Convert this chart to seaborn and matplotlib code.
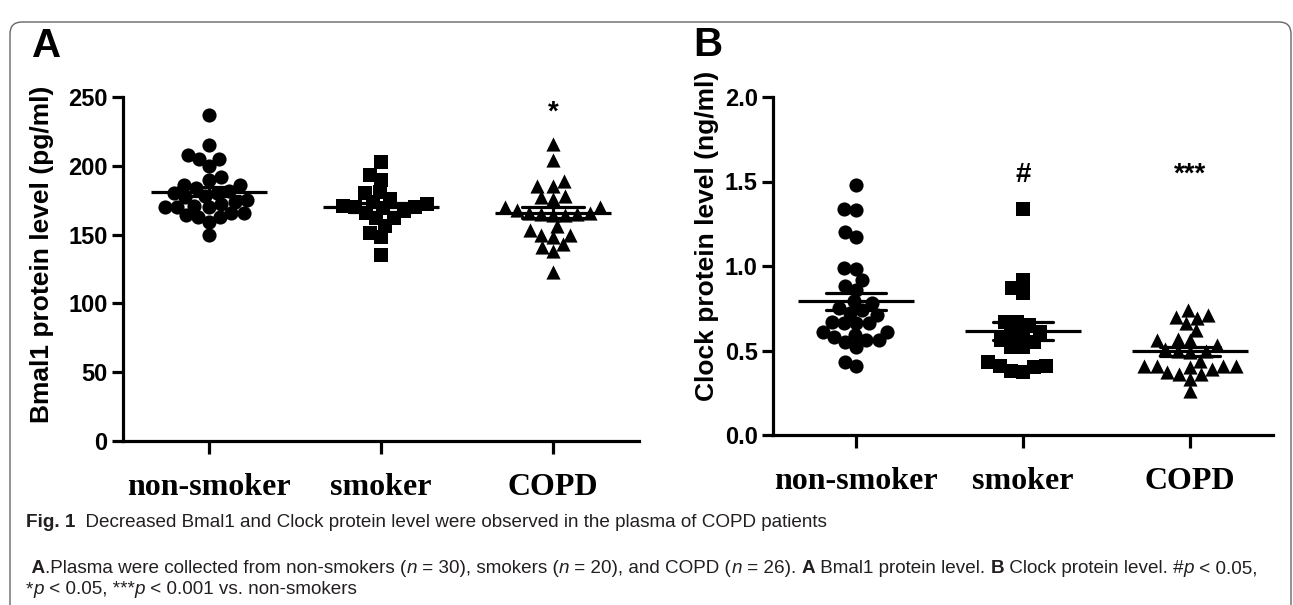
import numpy as np
import pandas as pd
import matplotlib
matplotlib.use("Agg")
import matplotlib.pyplot as plt
import seaborn as sns
from matplotlib.patches import FancyBboxPatch

# ---------------- data ----------------
groups = ["non-smoker", "smoker", "COPD"]
markers = ["o", "s", "^"]

bmal1_nonsmoker = [237, 215, 208, 205, 205, 200, 192, 190, 186, 186, 184, 182, 180, 180, 178,
                   177, 175, 174, 172, 171, 170, 170, 170, 166, 166, 164, 163, 163, 159, 150]
bmal1_smoker = [203, 193, 190, 181, 180, 176, 174, 172, 171, 170, 170, 169, 167, 166, 162,
                162, 156, 151, 148, 135]
bmal1_copd = [216, 204, 189, 185, 185, 178, 176, 177, 170, 170, 168, 166, 166, 165, 165,
              164, 164, 156, 153, 150, 150, 148, 143, 141, 138, 123]

clock_nonsmoker = [1.48, 1.34, 1.33, 1.20, 1.17, 0.99, 0.98, 0.92, 0.88, 0.86, 0.79, 0.78, 0.75,
                   0.74, 0.72, 0.71, 0.67, 0.66, 0.66, 0.66, 0.61, 0.61, 0.59, 0.58, 0.56, 0.56,
                   0.55, 0.52, 0.43, 0.41]
clock_smoker = [1.34, 0.92, 0.87, 0.84, 0.67, 0.67, 0.65, 0.61, 0.60, 0.59, 0.56, 0.55, 0.52,
                0.52, 0.43, 0.41, 0.41, 0.40, 0.38, 0.37]
clock_copd = [0.74, 0.71, 0.70, 0.69, 0.66, 0.62, 0.57, 0.56, 0.56, 0.53, 0.51, 0.50, 0.50,
              0.49, 0.44, 0.41, 0.41, 0.40, 0.39, 0.41, 0.41, 0.36, 0.36, 0.37, 0.33, 0.26]

bmal1_ticks = [0, 50, 100, 150, 200, 250]
clock_ticks = [0.0, 0.5, 1.0, 1.5, 2.0]
signif_A = ["", "", "*"]
signif_B = ["", "#", "***"]

# ---------------- style ----------------
sns.set_theme(style="ticks")
plt.rcParams["font.family"] = ["Liberation Sans", "DejaVu Sans"]
for k in ["text.color", "axes.labelcolor", "xtick.color", "ytick.color", "axes.edgecolor"]:
    plt.rcParams[k] = "black"

W, H = 1293, 605
fig = plt.figure(figsize=(W / 100, H / 100), dpi=100)
fig.patch.set_facecolor("white")


def rect(l, r, t, b):
    return [l / W, 1 - b / H, (r - l) / W, (b - t) / H]


axA = fig.add_axes(rect(123, 639, 97, 441))
axB = fig.add_axes(rect(773, 1273, 97, 435))

LW = 2.3


def panel(ax, series, ylim, ticks, fmt, ylabel, signif, sig_y, label_xy):
    ax.set_xlim(-0.5, 2.5)
    ax.set_ylim(*ylim)
    for i, vals in enumerate(series):
        sns.swarmplot(x=[groups[i]] * len(vals), y=vals, order=groups, marker=markers[i],
                      size=8.4, color="black", linewidth=0, ax=ax, zorder=3)
    frame = pd.DataFrame({"group": np.repeat(groups, [len(s) for s in series]),
                          "value": np.concatenate(series)})
    sns.pointplot(data=frame, x="group", y="value", order=groups, errorbar="se",
                  capsize=0.36, color="black", linestyle="none", marker="_",
                  markersize=84, markeredgewidth=LW, err_kws={"linewidth": LW}, ax=ax, zorder=4)
    ax.set_xlim(-0.5, 2.5)
    ax.set_ylim(*ylim)
    ax.set_yticks(ticks)
    ax.set_yticklabels([fmt.format(t) for t in ticks], fontsize=17, fontweight="bold")
    ax.set_xticks(range(3))
    ax.set_xticklabels(groups, fontsize=23, fontweight="bold", family="Liberation Serif")
    ax.set_xlabel("")
    ax.set_ylabel(ylabel, fontsize=19, fontweight="bold", color="black")
    ax.yaxis.set_label_coords(*label_xy)
    for s in ["top", "right"]:
        ax.spines[s].set_visible(False)
    for s in ["left", "bottom"]:
        ax.spines[s].set_linewidth(LW)
        ax.spines[s].set_color("black")
    ax.tick_params(axis="y", length=8, width=LW, pad=3, colors="black")
    ax.tick_params(axis="x", length=9, width=LW, pad=14, colors="black")
    ax.set_facecolor("white")
    for i, s in enumerate(signif):
        if s:
            ax.text(i, sig_y, s, ha="center", va="center", fontsize=20, fontweight="bold",
                    color="black")


panel(axA, [bmal1_nonsmoker, bmal1_smoker, bmal1_copd], (0, 250), bmal1_ticks, "{:.0f}",
      "Bmal1 protein level (pg/ml)", signif_A, 239, (-0.133, 0.544))
panel(axB, [clock_nonsmoker, clock_smoker, clock_copd], (0, 2.0), clock_ticks, "{:.1f}",
      "Clock protein level (ng/ml)", signif_B, 1.54, (-0.108, 0.59))

fig.text(32 / W, 1 - 57 / H, "A", fontsize=29, fontweight="bold", va="baseline", color="black")
fig.text(693 / W, 1 - 56 / H, "B", fontsize=29, fontweight="bold", va="baseline", color="black")

# rounded page frame
fig.add_artist(FancyBboxPatch((10, -40), W - 12, H - 11 + 40 - 11,
                              boxstyle="round,pad=0,rounding_size=12", transform=None,
                              facecolor="none", edgecolor="#666666", linewidth=1.0))

# first draw computes the swarm layout; then markers are shown at full size
fig.canvas.draw()
for ax in (axA, axB):
    for coll in ax.collections:
        if "draw" in coll.__dict__:
            del coll.draw
        coll.set_sizes([104])

# caption
renderer = fig.canvas.get_renderer()
CAP_FAM = ["Liberation Sans", "DejaVu Sans"]
CAP_COLOR = "#231f20"
CAP_SIZE = 13.6


def run_text(x, y, parts, size):
    cx = x
    for txt, weight, style in parts:
        fig.text(cx / W, 1 - y / H, txt, fontsize=size, fontweight=weight, fontstyle=style,
                 family=CAP_FAM, va="baseline", color=CAP_COLOR)
        probe = fig.text(0, 0, txt + "x", fontsize=size, fontweight=weight, fontstyle=style,
                         family=CAP_FAM)
        probe_x = fig.text(0, 0, "x", fontsize=size, fontweight=weight, fontstyle=style,
                           family=CAP_FAM)
        w = probe.get_window_extent(renderer).width - probe_x.get_window_extent(renderer).width
        probe.remove()
        probe_x.remove()
        cx += w


run_text(26, 527, [("Fig. 1", "bold", "normal"),
                   ("  Decreased Bmal1 and Clock protein level were observed in the plasma of COPD patients",
                    "normal", "normal")], CAP_SIZE)
run_text(27, 573, [(" A", "bold", "normal"),
                   (".Plasma were collected from non-smokers (", "normal", "normal"),
                   ("n", "normal", "italic"), (" = 30), smokers (", "normal", "normal"),
                   ("n", "normal", "italic"), (" = 20), and COPD (", "normal", "normal"),
                   ("n", "normal", "italic"), (" = 26). ", "normal", "normal"),
                   ("A", "bold", "normal"), (" Bmal1 protein level. ", "normal", "normal"),
                   ("B", "bold", "normal"), (" Clock protein level. #", "normal", "normal"),
                   ("p", "normal", "italic"), (" < 0.05,", "normal", "normal")], CAP_SIZE)
run_text(26, 594, [("*", "normal", "normal"), ("p", "normal", "italic"),
                   (" < 0.05, ***", "normal", "normal"), ("p", "normal", "italic"),
                   (" < 0.001 vs. non-smokers", "normal", "normal")], CAP_SIZE)

fig.savefig("out.png", dpi=100)
